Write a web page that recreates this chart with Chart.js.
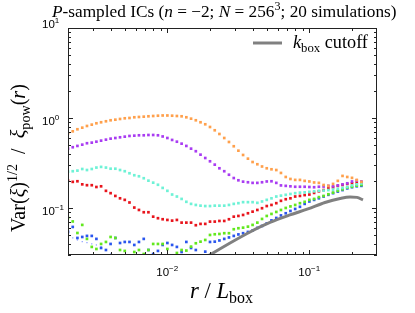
<!DOCTYPE html>
<html>
<head>
<meta charset="utf-8">
<script src="https://cdn.jsdelivr.net/npm/chart.js@4"></script>
<style>
  body { margin: 0; background: #fff; }
  canvas { display: block; }
</style>
</head>
<body>
<canvas id="myChart" width="415" height="313"></canvas>
<script>
// r / L_box bins (log spaced)
const xs = [0.00200,0.00216,0.00233,0.00252,0.00272,0.00294,0.00317,0.00342,0.00370,0.00399,
  0.00431,0.00465,0.00502,0.00542,0.00586,0.00632,0.00683,0.00737,0.00796,0.00860,
  0.00928,0.01002,0.01082,0.01169,0.01262,0.01363,0.01471,0.01589,0.01715,0.01852,
  0.0200,0.0216,0.0233,0.0252,0.0272,0.0294,0.0317,0.0342,0.0370,0.0399,
  0.0431,0.0465,0.0502,0.0542,0.0586,0.0632,0.0683,0.0737,0.0796,0.0860,
  0.0928,0.1002,0.1082,0.1169,0.1262,0.1363,0.1471,0.1589,0.1715,0.1852,
  0.200,0.216,0.233];

const orange = [0.676,0.711,0.749,0.780,0.815,0.843,0.873,0.896,0.919,0.943,
  0.957,0.975,0.992,1.0,1.018,1.026,1.034,1.044,1.052,1.060,
  1.066,1.066,1.060,1.052,1.044,1.018,0.982,0.943,0.896,0.851,
  0.794,0.730,0.664,0.599,0.541,0.485,0.433,0.388,0.353,0.324,
  0.306,0.289,0.276,0.269,0.264,0.245,0.221,0.210,0.205,0.205,
  0.200,0.197,0.192,0.190,0.180,0.176,0.185,0.200,0.227,0.221,
  0.216,0.205,0.195];

const purple = [0.456,0.473,0.489,0.505,0.524,0.532,0.545,0.560,0.574,0.589,
  0.599,0.610,0.620,0.631,0.636,0.642,0.642,0.647,0.647,0.642,
  0.623,0.599,0.570,0.545,0.518,0.489,0.456,0.427,0.391,0.359,
  0.330,0.303,0.276,0.256,0.234,0.215,0.203,0.196,0.193,0.190,
  0.190,0.193,0.197,0.198,0.190,0.178,0.176,0.174,0.172,0.172,
  0.172,0.171,0.170,0.172,0.173,0.176,0.174,0.178,0.183,0.188,
  0.197,0.202,0.197];

const turquoise = [0.253,0.256,0.260,0.271,0.264,0.271,0.281,0.286,0.281,0.273,
  0.273,0.264,0.256,0.243,0.231,0.225,0.214,0.201,0.191,0.181,
  0.167,0.155,0.141,0.134,0.126,0.117,0.111,0.108,0.106,0.105,
  0.105,0.106,0.106,0.106,0.108,0.111,0.113,0.116,0.116,0.116,
  0.114,0.118,0.123,0.128,0.134,0.137,0.140,0.143,0.146,0.148,
  0.149,0.151,0.153,0.155,0.156,0.158,0.160,0.163,0.167,0.171,
  0.178,0.183,0.187];

const red = [0.201,0.195,0.198,0.183,0.179,0.179,0.171,0.174,0.155,0.146,
  0.136,0.128,0.123,0.115,0.101,0.095,0.0896,0.0896,0.080,0.0769,
  0.0749,0.0736,0.0723,0.0736,0.0687,0.0687,0.0687,0.0643,0.0665,0.0665,
  0.0705,0.0705,0.0717,0.0717,0.0749,0.080,0.0815,0.0836,0.0873,0.091,
  0.095,0.0993,0.105,0.108,0.113,0.120,0.125,0.128,0.134,0.136,
  0.139,0.141,0.147,0.153,0.158,0.165,0.170,0.176,0.180,0.185,
  0.188,0.191,0.192];

const green = [0.0774,0.0708,0.0527,0.0648,0.0453,0.0369,0.035,0.0398,0.0419,0.0476,
  0.0464,0.0341,0.0333,0.0293,0.0324,0.0341,0.0308,0.0341,0.0398,0.0398,
  0.0398,0.035,0.0293,0.0316,0.0341,0.0336,0.0372,0.0405,0.0422,0.0441,
  0.0501,0.0510,0.0514,0.0524,0.0524,0.058,0.0595,0.0604,0.062,0.0648,
  0.0687,0.0755,0.0815,0.0858,0.0903,0.095,0.100,0.104,0.108,0.113,
  0.117,0.123,0.126,0.132,0.136,0.142,0.148,0.155,0.161,0.168,
  0.172,0.177,0.180];

const blue = [0.0541,0.0615,0.0464,0.0476,0.0489,0.0489,0.0453,0.0359,0.0341,0.0398,
  0.0464,0.0408,0.0419,0.0419,0.0388,0.0419,0.0453,0.0341,0.0308,0.0333,
  0.0388,0.0408,0.0388,0.0369,0.0324,0.0419,0.0359,0.0341,0.0293,0.0327,
  0.0419,0.0422,0.0435,0.0453,0.047,0.0489,0.0508,0.0524,0.0541,0.0562,
  0.060,0.0631,0.0673,0.0727,0.0774,0.0826,0.0873,0.0926,0.0975,0.103,
  0.111,0.118,0.123,0.128,0.134,0.140,0.146,0.152,0.158,0.165,
  0.170,0.174,0.176];

const faint = [null,0.0464,0.0441,0.0422,0.0412,0.0398,0.0388,0.0372,0.0341,0.0308];

// k_box cutoff curve
const kboxX = [0.018,0.020,0.0277,0.0383,0.0529,0.0731,0.0979,0.129,0.165,0.194,0.217,0.239];
const kboxY = [0.0271,0.0301,0.0408,0.0541,0.069,0.0836,0.0975,0.115,0.1276,0.1325,0.1311,0.1227];

// tick labels (base 10 exponents)
const xTickVals = [0.01, 0.1];
const xTickExp = ['\u22122', '\u22121'];
const yTickVals = [10, 1, 0.1];
const yTickExp = ['1', '0', '\u22121'];

function pts(ys) {
    return ys.map((y, i) => ({ x: xs[i], y: y }));
}

function dots(ys, color, r) {
    return {
        data: pts(ys),
        showLine: false,
        pointStyle: 'rect',
        pointRadius: r || 1.9,
        pointBorderWidth: 0,
        backgroundColor: color,
        borderColor: color,
        clip: 0
    };
}

const SERIF = '"Liberation Serif", "DejaVu Serif", serif';
const SANS = '"Liberation Sans", Arial, sans-serif';

function runsWidth(ctx, runs, size, fam) {
    let w = 0;
    runs.forEach(r => {
        const s = r.s ? size * 0.7 : size;
        ctx.font = (r.it ? 'italic ' : '') + s + 'px ' + fam;
        w += ctx.measureText(r.t).width;
    });
    return w;
}

function drawRuns(ctx, runs, x, y, size, fam) {
    let cx = x;
    runs.forEach(r => {
        const s = r.s ? size * 0.7 : size;
        ctx.font = (r.it ? 'italic ' : '') + s + 'px ' + fam;
        const dy = r.s === 'sup' ? -size * 0.42 : (r.s === 'sub' ? size * 0.24 : 0);
        ctx.fillText(r.t, cx, y + dy);
        cx += ctx.measureText(r.t).width;
    });
}

function fitSize(ctx, runs, target, fam) {
    return 20 * target / runsWidth(ctx, runs, 20, fam);
}

const decor = {
    id: 'decor',
    afterDraw(chart) {
        const ctx = chart.ctx;
        const a = chart.chartArea;
        const xs_ = chart.scales.x, ys_ = chart.scales.y;
        ctx.save();
        ctx.fillStyle = '#000';
        ctx.strokeStyle = '#222';
        ctx.lineWidth = 1;
        ctx.textBaseline = 'alphabetic';
        ctx.textAlign = 'left';

        // frame
        ctx.strokeRect(a.left + 0.5, a.top + 0.5, a.right - a.left - 1, a.bottom - a.top - 1);

        // inward ticks
        ctx.beginPath();
        for (let d = -3; d <= 0; d++) {
            for (let m = 1; m <= 9; m++) {
                const v = m * Math.pow(10, d);
                if (v < 0.002 || v > 0.3) continue;
                const p = Math.round(xs_.getPixelForValue(v)) + 0.5;
                const len = m === 1 ? 5 : 3;
                ctx.moveTo(p, a.bottom); ctx.lineTo(p, a.bottom - len);
                ctx.moveTo(p, a.top); ctx.lineTo(p, a.top + len);
            }
        }
        for (let d = -2; d <= 1; d++) {
            for (let m = 1; m <= 9; m++) {
                const v = m * Math.pow(10, d);
                if (v < 0.03 || v > 10) continue;
                const p = Math.round(ys_.getPixelForValue(v)) + 0.5;
                const len = m === 1 ? 5 : 3;
                ctx.moveTo(a.left, p); ctx.lineTo(a.left + len, p);
                ctx.moveTo(a.right, p); ctx.lineTo(a.right - len, p);
            }
        }
        ctx.stroke();

        // tick labels
        xTickVals.forEach((v, i) => {
            const runs = [{ t: '10' }, { t: xTickExp[i], s: 'sup' }];
            const w = runsWidth(ctx, runs, 11.5, SANS);
            drawRuns(ctx, runs, xs_.getPixelForValue(v) - w / 2, 276, 11.5, SANS);
        });
        yTickVals.forEach((v, i) => {
            const runs = [{ t: '10' }, { t: yTickExp[i], s: 'sup' }];
            let yy = ys_.getPixelForValue(v) + 7;
            if (i === 0) yy = 28;
            drawRuns(ctx, runs, 42, yy, 11.5, SANS);
        });

        // title
        const title = [{ t: 'P', it: 1 }, { t: '-sampled ICs (' }, { t: 'n', it: 1 }, { t: ' = \u22122; ' },
            { t: 'N', it: 1 }, { t: ' = 256' }, { t: '3', s: 'sup' }, { t: '; 20 simulations)' }];
        drawRuns(ctx, title, 52, 17, fitSize(ctx, title, 345, SERIF), SERIF);

        // x label
        const xl = [{ t: 'r', it: 1 }, { t: ' / ' }, { t: 'L', it: 1 }, { t: 'box', s: 'sub' }];
        drawRuns(ctx, xl, 190, 298, fitSize(ctx, xl, 63, SERIF), SERIF);

        // y label
        const yl = [{ t: 'Var(' }, { t: '\u03be', it: 1 }, { t: ')' }, { t: '1/2', s: 'sup' }, { t: '  /  ' },
            { t: '\u03be', it: 1 }, { t: 'pow', s: 'sub' }, { t: '(' }, { t: 'r', it: 1 }, { t: ')' }];
        ctx.save();
        ctx.translate(25, 232);
        ctx.rotate(-Math.PI / 2);
        drawRuns(ctx, yl, 0, 0, fitSize(ctx, yl, 148, SERIF), SERIF);
        ctx.restore();

        // legend
        ctx.strokeStyle = '#808080';
        ctx.lineWidth = 3;
        ctx.beginPath();
        ctx.moveTo(253, 43); ctx.lineTo(282, 43);
        ctx.stroke();
        const lg = [{ t: 'k', it: 1 }, { t: 'box', s: 'sub' }, { t: ' cutoff' }];
        drawRuns(ctx, lg, 293, 48, fitSize(ctx, lg, 75, SERIF), SERIF);

        ctx.restore();
    }
};

const ctx = document.getElementById('myChart').getContext('2d');
const myChart = new Chart(ctx, {
    type: 'scatter',
    data: {
        datasets: [
            {
                data: kboxX.map((x, i) => ({ x: x, y: kboxY[i] })),
                showLine: true,
                borderColor: '#808080',
                borderWidth: 3,
                pointRadius: 0,
                cubicInterpolationMode: 'monotone',
                clip: 0
            },
            dots(orange, '#ffa04c'),
            dots(purple, '#a93cf2'),
            dots(turquoise, '#6ef2d6'),
            dots(red, '#e8141c'),
            dots(green, '#62e81e'),
            dots(blue, '#2a56ee'),
            dots(faint, '#8fa2ff', 0.9)
        ]
    },
    options: {
        responsive: false,
        animation: false,
        devicePixelRatio: 1,
        layout: { padding: { top: 28, right: 38, left: 0, bottom: 0 } },
        plugins: {
            legend: { display: false },
            tooltip: { enabled: false }
        },
        scales: {
            x: {
                type: 'logarithmic',
                min: 0.002,
                max: 0.3,
                grid: { display: false },
                border: { display: false },
                ticks: { display: false },
                afterFit: s => { s.height = 58; }
            },
            y: {
                type: 'logarithmic',
                min: 0.03,
                max: 10,
                grid: { display: false },
                border: { display: false },
                ticks: { display: false },
                afterFit: s => { s.width = 68; }
            }
        }
    },
    plugins: [decor]
});
</script>
</body>
</html>
